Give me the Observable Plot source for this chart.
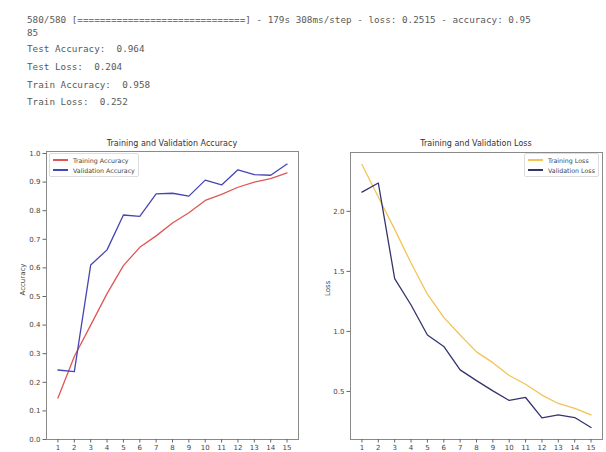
<!DOCTYPE html>
<html>
<head>
<meta charset="utf-8">
<script src="https://cdn.jsdelivr.net/npm/d3@7"></script>
<script src="https://cdn.jsdelivr.net/npm/@observablehq/plot@0.6"></script>
<style>
  html, body { margin: 0; padding: 0; background: #fff; width: 606px; height: 452px; overflow: hidden; }
  #page { position: relative; width: 606px; height: 452px; }
  .con { position: absolute; left: 27px; font-family: "DejaVu Sans Mono", monospace; font-size: 9.3px; color: #5a5a5a; white-space: pre; line-height: 12px; }
  .chart { position: absolute; top: 136px; }
  .title { position: absolute; font-family: "DejaVu Sans", sans-serif; font-size: 8px; color: #333; white-space: nowrap; transform: translateX(-50%); }
  .legend { position: absolute; border: 1px solid #ddd; border-radius: 2px; background: #fff; font-family: "DejaVu Sans", sans-serif; font-size: 6.3px; color: #444; padding: 1px 3px 1px 3px; }
  .legend .row { display: flex; align-items: center; height: 10px; white-space: nowrap; }
  .legend .sw { width: 15px; height: 1.4px; margin-right: 5px; }
</style>
</head>
<body>
<div id="page"></div>
<script>
// ---- data ----
const consoleLines = [
  "580/580 [==============================] - 179s 308ms/step - loss: 0.2515 - accuracy: 0.95",
  "85",
  "Test Accuracy:  0.964",
  "Test Loss:  0.204",
  "Train Accuracy:  0.958",
  "Train Loss:  0.252"
];
const epochs = [1, 2, 3, 4, 5, 6, 7, 8, 9, 10, 11, 12, 13, 14, 15];
const trainAcc = [0.145, 0.29, 0.40, 0.51, 0.608, 0.672, 0.712, 0.757, 0.793, 0.836, 0.857, 0.882, 0.900, 0.912, 0.932];
const valAcc   = [0.243, 0.237, 0.61, 0.663, 0.785, 0.780, 0.859, 0.861, 0.851, 0.907, 0.890, 0.943, 0.926, 0.924, 0.963];
const trainLoss = [2.39, 2.12, 1.85, 1.57, 1.31, 1.117, 0.97, 0.83, 0.74, 0.633, 0.56, 0.47, 0.40, 0.36, 0.305];
const valLoss   = [2.16, 2.236, 1.44, 1.22, 0.97, 0.875, 0.68, 0.59, 0.505, 0.425, 0.45, 0.28, 0.305, 0.283, 0.20];
const accTicks = [0.0, 0.1, 0.2, 0.3, 0.4, 0.5, 0.6, 0.7, 0.8, 0.9, 1.0];
const lossTicks = [0.5, 1.0, 1.5, 2.0];
const titles = ["Training and Validation Accuracy", "Training and Validation Loss"];
const yLabels = ["Accuracy", "Loss"];
const accSeries = ["Training Accuracy", "Validation Accuracy"];
const lossSeries = ["Training Loss", "Validation Loss"];
const colors = { "Training Accuracy": "#e05656", "Validation Accuracy": "#4646b4", "Training Loss": "#f0c456", "Validation Loss": "#34346e" };

const page = document.getElementById("page");
const conTops = [14, 27, 43, 61, 79, 96];
consoleLines.forEach((t, i) => {
  const d = document.createElement("div");
  d.className = "con"; d.style.top = conTops[i] + "px"; d.textContent = t;
  page.appendChild(d);
});

const fontStyle = { fontFamily: "DejaVu Sans, sans-serif", fontSize: "7px", color: "#444", background: "transparent", overflow: "visible" };

function makeChart(opts) {
  const rows = [];
  opts.series.forEach((name, k) => {
    epochs.forEach((e, i) => rows.push({ epoch: e, value: opts.values[k][i], series: name }));
  });
  const svg = Plot.plot({
    width: opts.width, height: 320,
    marginLeft: opts.ml, marginRight: opts.mr, marginTop: opts.mt, marginBottom: 17,
    style: fontStyle,
    x: { domain: [0.3, 15.7] },
    y: { domain: opts.ydomain },
    marks: [
      Plot.frame({ stroke: "#8a8a8a", strokeWidth: 1 }),
      Plot.axisX({ ticks: epochs, tickSize: 3.5, tickPadding: 2.5, stroke: "#666", fill: "#444", label: null, tickFormat: d => String(d) }),
      Plot.axisY({ ticks: opts.yticks, tickSize: 3.5, tickPadding: 2.5, stroke: "#666", fill: "#444", label: null, tickFormat: d3.format(".1f") }),
      Plot.line(rows, { x: "epoch", y: "value", z: "series", stroke: d => colors[d.series], strokeWidth: 1.3 }),
      Plot.text([opts.ylabel], { frameAnchor: "left", rotate: -90, dx: -opts.labelDx, fill: "#444", fontSize: 7 })
    ]
  });
  svg.classList.add("chart");
  svg.style.left = opts.left + "px";
  page.appendChild(svg);

  const t = document.createElement("div");
  t.className = "title"; t.textContent = opts.title;
  t.style.left = opts.titleX + "px"; t.style.top = "139px";
  page.appendChild(t);

  const lg = document.createElement("div");
  lg.className = "legend";
  lg.style.left = opts.legX + "px"; lg.style.top = "153px";
  opts.series.forEach(name => {
    const r = document.createElement("div"); r.className = "row";
    const s = document.createElement("div"); s.className = "sw"; s.style.background = colors[name];
    const tx = document.createElement("span"); tx.textContent = name;
    r.appendChild(s); r.appendChild(tx); lg.appendChild(r);
  });
  page.appendChild(lg);
}

makeChart({ left: 0, width: 300, ml: 46, mr: 2, mt: 15, ydomain: [0, 1.007], yticks: accTicks,
  series: accSeries, values: [trainAcc, valAcc], ylabel: yLabels[0], labelDx: 24,
  title: titles[0], titleX: 172, legX: 49 });
makeChart({ left: 300, width: 306, ml: 50, mr: 4, mt: 16, ydomain: [0.1, 2.49], yticks: lossTicks,
  series: lossSeries, values: [trainLoss, valLoss], ylabel: yLabels[1], labelDx: 23,
  title: titles[1], titleX: 476, legX: 524 });
</script>
</body>
</html>
